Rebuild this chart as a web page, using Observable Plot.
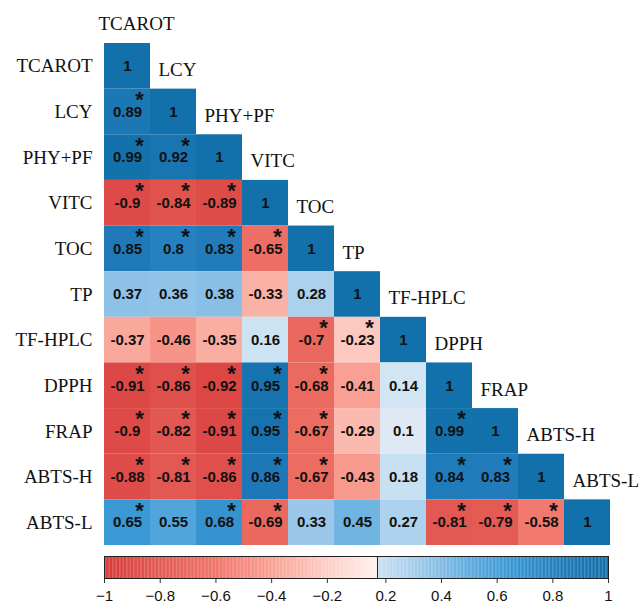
<!DOCTYPE html>
<html>
<head>
<meta charset="utf-8">
<script src="https://cdn.jsdelivr.net/npm/d3@7"></script>
<script src="https://cdn.jsdelivr.net/npm/@observablehq/plot@0.6"></script>
<style>
  html, body { margin: 0; padding: 0; background: #fff; }
  #chart svg { display: block; }
  #legend { position: relative; width: 640px; height: 56px; }
  #legend svg { position: absolute; left: 0; top: 0; }
</style>
</head>
<body>
<div id="chart"></div>
<div id="legend"></div>
<script>
// Variables (row / column order)
const variables = ["TCAROT", "LCY", "PHY+PF", "VITC", "TOC", "TP", "TF-HPLC", "DPPH", "FRAP", "ABTS-H", "ABTS-L"];

// Lower-triangle correlation coefficients, one array per row (columns before the diagonal)
const corrRows = [
  [],
  [0.89],
  [0.99, 0.92],
  [-0.9, -0.84, -0.89],
  [0.85, 0.8, 0.83, -0.65],
  [0.37, 0.36, 0.38, -0.33, 0.28],
  [-0.37, -0.46, -0.35, 0.16, -0.7, -0.23],
  [-0.91, -0.86, -0.92, 0.95, -0.68, -0.41, 0.14],
  [-0.9, -0.82, -0.91, 0.95, -0.67, -0.29, 0.1, 0.99],
  [-0.88, -0.81, -0.86, 0.86, -0.67, -0.43, 0.18, 0.84, 0.83],
  [0.65, 0.55, 0.68, -0.69, 0.33, 0.45, 0.27, -0.81, -0.79, -0.58]
];

// Significance flags (1 = asterisk), same shape as corrRows
const sigRows = [
  [],
  [1],
  [1, 1],
  [1, 1, 1],
  [1, 1, 1, 1],
  [0, 0, 0, 0, 0],
  [0, 0, 0, 0, 1, 1],
  [1, 1, 1, 1, 1, 0, 0],
  [1, 1, 1, 1, 1, 0, 0, 1],
  [1, 1, 1, 1, 1, 0, 0, 1, 1],
  [1, 0, 1, 1, 0, 0, 0, 1, 1, 1]
];

// Colour-bar tick labels (negative half and positive half)
const legendTicksNeg = [-1, -0.8, -0.6, -0.4, -0.2];
const legendTicksPos = [0.2, 0.4, 0.6, 0.8, 1];

// Build the cell table
const cells = [];
variables.forEach((row, i) => {
  corrRows[i].forEach((v, j) => cells.push({row, col: variables[j], value: v, sig: sigRows[i][j] === 1}));
  cells.push({row, col: row, value: 1, sig: false});
});

const colorScale = {
  type: "linear",
  domain: [-1, -0.8, -0.6, -0.4, -0.2, 0, 0.15, 0.3, 0.4, 0.5, 0.65, 0.85, 1],
  range: ["#d73a3a", "#e35a53", "#f07569", "#f9a195", "#fdcfc6", "#fff4f2",
          "#cfe4f3", "#a5ceec", "#82bbe5", "#5eacdf", "#3a98d4", "#1f79b9", "#1270ab"],
  interpolate: "rgb"
};

const serif = "'Liberation Serif', 'Times New Roman', serif";
const sans = "'Liberation Sans', Arial, sans-serif";

const heat = Plot.plot({
  width: 640,
  height: 550,
  marginLeft: 104,
  marginRight: 30,
  marginTop: 43,
  marginBottom: 5,
  style: {background: "white", overflow: "visible"},
  x: {domain: variables, padding: 0, round: false, axis: null},
  y: {domain: variables, padding: 0, round: false, axis: null},
  color: colorScale,
  marks: [
    Plot.cell(cells, {x: "col", y: "row", fill: "value"}),
    Plot.text(cells, {x: "col", y: "row", text: d => String(d.value), fontWeight: "bold", fontSize: 15, fontFamily: sans, fill: "#111"}),
    Plot.text(cells.filter(d => d.sig), {x: "col", y: "row", text: () => "*", dx: 12, dy: -12, fontSize: 22, fontWeight: "bold", fontFamily: sans, fill: "#111"}),
    Plot.text(variables, {y: d => d, frameAnchor: "left", dx: -12, textAnchor: "end", fontSize: 19, fontFamily: serif, fill: "#111"}),
    Plot.text(variables.slice(0, 1), {x: d => d, y: d => d, textAnchor: "start", dx: -29, dy: -42, fontSize: 19, fontFamily: serif, fill: "#111"}),
    Plot.text(variables.slice(1), {x: d => d, y: d => d, textAnchor: "start", dx: -15, dy: -42, fontSize: 19, fontFamily: serif, fill: "#111"})
  ]
});
document.getElementById("chart").appendChild(heat);

// Colour bar: red half (-1 .. ~0) and blue half (~0.17 .. 1), as in the original figure
function legendHalf(lo, hi, ticks, marginLeft, marginRight, bg) {
  const steps = d3.range(lo, hi, 0.005);
  return Plot.plot({
    width: 640,
    height: 56,
    marginTop: 6,
    marginBottom: 28,
    marginLeft,
    marginRight,
    style: {background: bg, overflow: "visible"},
    x: {domain: [lo, hi], axis: null},
    color: colorScale,
    marks: [
      Plot.rect(steps, {x1: d => d, x2: d => Math.min(d + 0.0055, hi), fill: d => d}),
      Plot.frame({stroke: "#222", strokeWidth: 1}),
      Plot.tickX(ticks, {x: d => d, stroke: "#333", strokeWidth: 1, insetTop: 23, insetBottom: -5}),
      Plot.text(ticks, {x: d => d, frameAnchor: "bottom", dy: 22, text: d => String(d).replace("-", "\u2212"),
        fontSize: 15, fontFamily: sans, fill: "#111"})
    ]
  });
}
const legendDiv = document.getElementById("legend");
legendDiv.appendChild(legendHalf(-1, -0.02, legendTicksNeg, 104, 640 - 377, "white"));
legendDiv.appendChild(legendHalf(0.17, 1, legendTicksPos, 377, 640 - 608, "transparent"));
</script>
</body>
</html>
